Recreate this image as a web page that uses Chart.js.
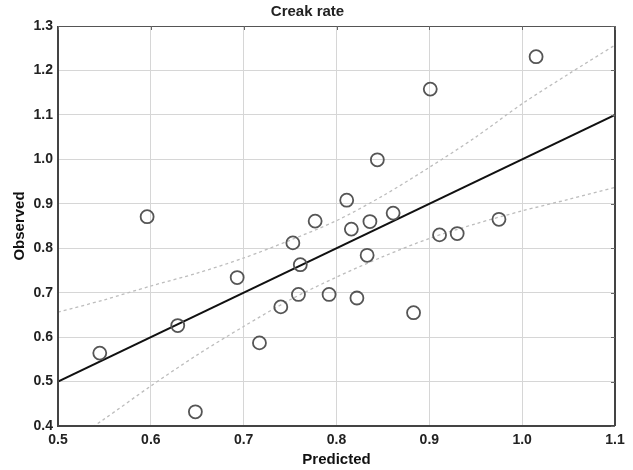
<!DOCTYPE html>
<html>
<head>
<meta charset="utf-8">
<script src="https://cdn.jsdelivr.net/npm/chart.js@4"></script>
<style>
  html, body { margin: 0; padding: 0; background: #fff; }
  #wrap { width: 633px; height: 470px; }
</style>
</head>
<body>
<div id="wrap"><canvas id="creakChart" width="633" height="470"></canvas></div>
<script>
// ============================
// DATA
// ============================

const predicted = [0.545, 0.596, 0.629, 0.648, 0.693, 0.717, 0.740, 0.753, 0.759, 0.761,
                   0.777, 0.792, 0.811, 0.816, 0.822, 0.833, 0.836, 0.844, 0.861, 0.883,
                   0.901, 0.911, 0.930, 0.975, 1.015];
const observed  = [0.564, 0.871, 0.626, 0.432, 0.734, 0.587, 0.668, 0.812, 0.696, 0.763,
                   0.861, 0.696, 0.908, 0.843, 0.688, 0.784, 0.860, 0.999, 0.879, 0.655,
                   1.158, 0.830, 0.833, 0.865, 1.231];

const fitX = [0.5, 1.1];
const fitY = [0.5, 1.1];

const bandX     = [0.5, 0.55, 0.6, 0.65, 0.7, 0.75, 0.8, 0.85, 0.9, 0.95, 1.0, 1.05, 1.1];
const bandUpper = [0.656, 0.684, 0.715, 0.744, 0.778, 0.818, 0.862, 0.918, 0.982, 1.050, 1.125, 1.192, 1.257];
const bandLower = [0.344, 0.416, 0.490, 0.560, 0.624, 0.684, 0.735, 0.781, 0.822, 0.855, 0.884, 0.910, 0.937];

const xTicks = [0.5, 0.6, 0.7, 0.8, 0.9, 1.0, 1.1];
const yTicks = [0.4, 0.5, 0.6, 0.7, 0.8, 0.9, 1.0, 1.1, 1.2, 1.3];

const toPts = (xs, ys) => xs.map((x, i) => ({ x: x, y: ys[i] }));

// ============================
// FRAME (box round plot area + right ticks)
// ============================

const framePlugin = {
    id: 'frame',
    afterDatasetsDraw(chart) {
        const { ctx, chartArea: a, scales } = chart;
        ctx.save();
        ctx.strokeStyle = '#555';
        ctx.lineWidth = 1;
        ctx.strokeRect(a.left + 0.5, a.top + 0.5, a.right - a.left - 1, a.bottom - a.top - 1);
        ctx.strokeStyle = '#444';
        ctx.lineWidth = 2;
        ctx.beginPath();
        ctx.moveTo(a.left, a.top);
        ctx.lineTo(a.left, a.bottom);
        ctx.lineTo(a.right, a.bottom);
        ctx.moveTo(a.right, a.top);
        ctx.lineTo(a.right, a.bottom);
        ctx.stroke();
        ctx.lineWidth = 1;
        ctx.strokeStyle = '#666';
        ctx.beginPath();
        yTicks.forEach(v => {
            const y = Math.round(scales.y.getPixelForValue(v)) + 0.5;
            ctx.moveTo(a.right - 4, y);
            ctx.lineTo(a.right, y);
        });
        xTicks.forEach(v => {
            const x = Math.round(scales.x.getPixelForValue(v)) + 0.5;
            ctx.moveTo(x, a.top);
            ctx.lineTo(x, a.top + 4);
        });
        ctx.stroke();
        ctx.restore();
    }
};

// ============================
// CREAK RATE
// ============================

const creakCtx = document.getElementById('creakChart');

const tickFont  = { family: 'Liberation Sans, Arial, sans-serif', size: 14, weight: 'bold' };
const titleFont = { family: 'Liberation Sans, Arial, sans-serif', size: 15, weight: 'bold' };

new Chart(creakCtx, {

    type: 'scatter',

    data: {

        datasets: [{
            label: 'Observed',
            data: toPts(predicted, observed),
            showLine: false,
            pointStyle: 'circle',
            pointRadius: 6.5,
            pointBorderWidth: 1.8,
            pointBorderColor: '#555',
            pointBackgroundColor: 'rgba(255,255,255,0)',
            order: 1
        }, {
            label: 'Fit',
            data: toPts(fitX, fitY),
            showLine: true,
            borderColor: '#111',
            borderWidth: 2,
            pointRadius: 0,
            order: 2
        }, {
            label: 'Upper 95%',
            data: toPts(bandX, bandUpper),
            showLine: true,
            borderColor: '#bdbdbd',
            borderWidth: 1.3,
            borderDash: [3, 3],
            tension: 0.3,
            pointRadius: 0,
            order: 3
        }, {
            label: 'Lower 95%',
            data: toPts(bandX, bandLower),
            showLine: true,
            borderColor: '#bdbdbd',
            borderWidth: 1.3,
            borderDash: [3, 3],
            tension: 0.3,
            pointRadius: 0,
            order: 3
        }]

    },

    options: {

        responsive: false,
        animation: false,

        layout: {
            padding: { left: 0, right: 18, top: 0, bottom: 0 }
        },

        plugins: {
            legend: { display: false },
            tooltip: { enabled: false },
            title: {
                display: true,
                text: 'Creak rate',
                color: '#222',
                font: titleFont,
                padding: { top: 2.5, bottom: 5.5 }
            }
        },

        scales: {
            x: {
                type: 'linear',
                min: 0.5,
                max: 1.1,
                afterBuildTicks: s => { s.ticks = xTicks.map(v => ({ value: v })); },
                afterFit: s => { s.height = 44; },
                grid: { color: '#d6d6d6', lineWidth: 1, drawTicks: false },
                border: { display: false },
                ticks: {
                    color: '#222',
                    font: tickFont,
                    padding: 6,
                    maxRotation: 0,
                    callback: v => v.toFixed(1)
                },
                title: {
                    display: true,
                    text: 'Predicted',
                    color: '#111',
                    font: titleFont,
                    padding: { top: 0, bottom: 1 }
                }
            },
            y: {
                type: 'linear',
                min: 0.4,
                max: 1.3,
                afterBuildTicks: s => { s.ticks = yTicks.map(v => ({ value: v })); },
                afterFit: s => { s.width = 58; },
                grid: { color: '#d6d6d6', lineWidth: 1, drawTicks: false },
                border: { display: false },
                ticks: {
                    color: '#222',
                    font: tickFont,
                    padding: 5,
                    callback: v => v.toFixed(1)
                },
                title: {
                    display: true,
                    text: 'Observed',
                    color: '#111',
                    font: titleFont,
                    padding: { top: 10.5, bottom: 0 }
                }
            }
        }

    },

    plugins: [framePlugin]

});
</script>
</body>
</html>
